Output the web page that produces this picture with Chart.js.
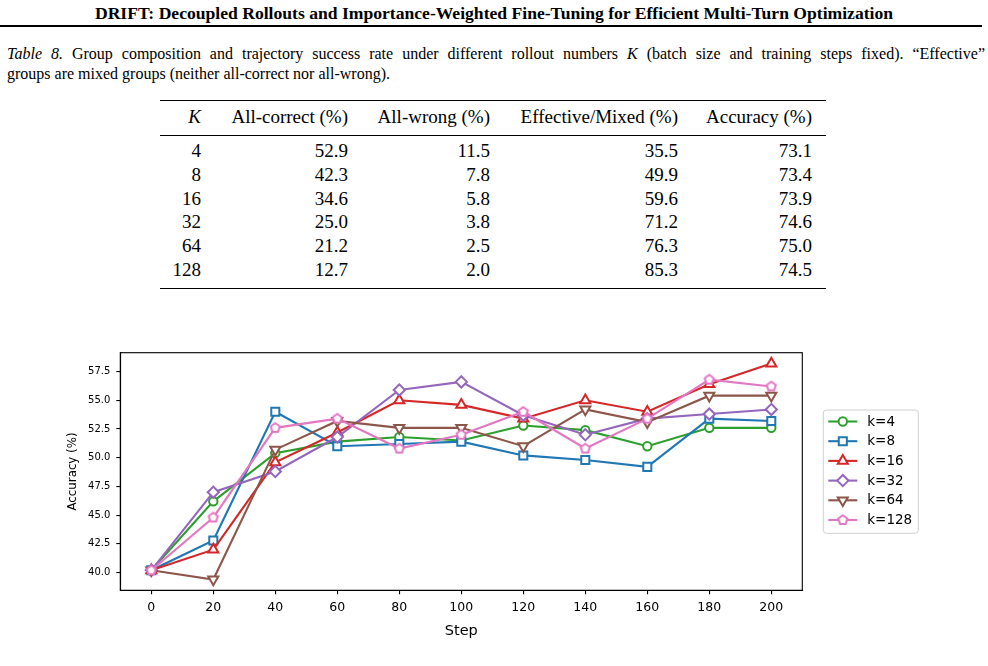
<!DOCTYPE html>
<html>
<head>
<meta charset="utf-8">
<script src="https://cdn.jsdelivr.net/npm/chart.js@4.4.0/dist/chart.umd.min.js"></script>
<style>
  body { margin: 0; background: #fff; width: 988px; height: 666px; overflow: hidden; position: relative;
         font-family: "Liberation Serif", "Times New Roman", serif; color: #000; }
  #head { position: absolute; top: 3px; left: 0; width: 988px; text-align: center; font-weight: bold; font-size: 17.6px; white-space: nowrap; }
  #rule { position: absolute; top: 25px; left: 0; width: 982px; height: 1.6px; background: #000; }
  .cap { position: absolute; left: 7px; width: 978px; font-size: 16px; line-height: 20px; white-space: nowrap; }
  #cap1 { top: 44px; text-align: justify; text-align-last: justify; white-space: normal; }
  #cap2 { top: 64px; }
  .hr { position: absolute; left: 160px; width: 666px; background: #000; }
  .row { position: absolute; left: 160px; width: 666px; height: 24px; line-height: 24px; font-size: 19px; display: flex; }
  .row span { display: block; text-align: right; padding-right: 14px; box-sizing: border-box; white-space: nowrap; }
  #wrap { position: absolute; left: 0; top: 330px; width: 988px; height: 336px; }
</style>
</head>
<body>
<div id="head">DRIFT: Decoupled Rollouts and Importance-Weighted Fine-Tuning for Efficient Multi-Turn Optimization</div>
<div id="rule"></div>
<div class="cap" id="cap1"><i>Table 8.</i> Group composition and trajectory success rate under different rollout numbers <i>K</i> (batch size and training steps fixed). “Effective”</div>
<div class="cap" id="cap2">groups are mixed groups (neither all-correct nor all-wrong).</div>
<div id="table"></div>
<div id="wrap"><canvas id="chart" width="988" height="336"></canvas></div>

<script>
// table data
const tableHeader = ['<i>K</i>', 'All-correct (%)', 'All-wrong (%)', 'Effective/Mixed (%)', 'Accuracy (%)'];
const tableK = [4, 8, 16, 32, 64, 128];
const allCorrect = ['52.9', '42.3', '34.6', '25.0', '21.2', '12.7'];
const allWrong = ['11.5', '7.8', '5.8', '3.8', '2.5', '2.0'];
const effective = ['35.5', '49.9', '59.6', '71.2', '76.3', '85.3'];
const accuracy = ['73.1', '73.4', '73.9', '74.6', '75.0', '74.5'];

// chart data
const steps = [0, 20, 40, 60, 80, 100, 120, 140, 160, 180, 200];
const yTicks = [40.0, 42.5, 45.0, 47.5, 50.0, 52.5, 55.0, 57.5];
const labels = ['k=4', 'k=8', 'k=16', 'k=32', 'k=64', 'k=128'];
const k4   = [40.2, 46.2, 50.4, 51.4, 51.8, 51.5, 52.8, 52.4, 51.0, 52.6, 52.6];
const k8   = [40.2, 42.8, 54.0, 51.0, 51.2, 51.4, 50.2, 49.8, 49.2, 53.4, 53.2];
const k16  = [40.2, 42.0, 49.6, 52.2, 55.0, 54.6, 53.4, 55.0, 54.0, 56.4, 58.2];
const k32  = [40.2, 47.0, 48.8, 51.8, 55.9, 56.6, 53.7, 52.0, 53.4, 53.8, 54.2];
const k64  = [40.2, 39.4, 50.7, 53.2, 52.6, 52.6, 51.0, 54.2, 53.1, 55.4, 55.4];
const k128 = [40.2, 44.8, 52.6, 53.4, 50.8, 52.0, 54.0, 50.8, 53.4, 56.8, 56.2];

// booktabs-like table: rules + rows
const colW = [55, 147, 142, 188, 134];
const tbl = document.getElementById('table');
function addRule(top, h) {
    const d = document.createElement('div');
    d.className = 'hr';
    d.style.top = top + 'px';
    d.style.height = h + 'px';
    tbl.appendChild(d);
}
function addRow(cells, centerY) {
    const r = document.createElement('div');
    r.className = 'row';
    r.style.top = (centerY - 12) + 'px';
    cells.forEach((c, i) => {
        const s = document.createElement('span');
        s.style.width = colW[i] + 'px';
        s.innerHTML = c;
        r.appendChild(s);
    });
    tbl.appendChild(r);
}
addRule(99.5, 1.6);
addRow(tableHeader, 117);
addRule(134.5, 0.9);
tableK.forEach((k, i) => {
    addRow([k, allCorrect[i], allWrong[i], effective[i], accuracy[i]], 151 + i * 23.8);
});
addRule(287.5, 1.6);

// pentagon marker (matplotlib 'p')
function pentagon(color, r, lw) {
    const c = document.createElement('canvas');
    const s = Math.ceil(2 * r + lw + 2);
    c.width = s; c.height = s;
    const ctx = c.getContext('2d');
    ctx.beginPath();
    for (let i = 0; i < 5; i++) {
        const a = -Math.PI / 2 + i * 2 * Math.PI / 5;
        const px = s / 2 + r * Math.cos(a), py = s / 2 + r * Math.sin(a);
        if (i === 0) ctx.moveTo(px, py); else ctx.lineTo(px, py);
    }
    ctx.closePath();
    ctx.fillStyle = '#fff';
    ctx.fill();
    ctx.lineWidth = lw;
    ctx.strokeStyle = color;
    ctx.stroke();
    return c;
}

const colors = ['#2ca02c', '#1f77b4', '#d62728', '#9467bd', '#8c564b', '#e377c2'];
const series = [k4, k8, k16, k32, k64, k128];
const styles = [
    { pointStyle: 'circle', radius: 4.2, rotation: 0 },
    { pointStyle: 'rect', radius: 5.7, rotation: 0 },
    { pointStyle: 'triangle', radius: 5.8, rotation: 0 },
    { pointStyle: 'rectRot', radius: 5.6, rotation: 0 },
    { pointStyle: 'triangle', radius: 5.8, rotation: 180 },
    { pointStyle: pentagon(colors[5], 4.8, 2), radius: 4.8, rotation: 0 }
];

const datasets = series.map((vals, i) => ({
    label: labels[i],
    data: steps.map((s, j) => ({ x: s, y: vals[j] })),
    borderColor: colors[i],
    borderWidth: 2.1,
    pointStyle: styles[i].pointStyle,
    pointRadius: styles[i].radius,
    pointRotation: styles[i].rotation,
    pointBorderWidth: 2,
    pointBorderColor: colors[i],
    pointBackgroundColor: '#fff',
    fill: false,
    tension: 0,
    order: series.length - i
}));

const frameAndLegend = {
    id: 'frameAndLegend',
    afterDraw(chart) {
        const ctx = chart.ctx;
        const a = chart.chartArea;
        ctx.save();
        ctx.strokeStyle = '#000';
        ctx.lineWidth = 1.1;
        ctx.strokeRect(a.left, a.top, a.right - a.left, a.bottom - a.top);

        // legend
        const x0 = a.right + 21, y0 = 80, w = 95, h = 123.3;
        ctx.beginPath();
        ctx.roundRect(x0, y0, w, h, 3);
        ctx.fillStyle = 'rgba(255,255,255,0.8)';
        ctx.fill();
        ctx.strokeStyle = '#d0d0d0';
        ctx.lineWidth = 1;
        ctx.stroke();
        ctx.font = '13.5px "DejaVu Sans"';
        ctx.textBaseline = 'middle';
        labels.forEach((lab, i) => {
            const y = y0 + 11.5 + i * 19.7;
            ctx.strokeStyle = colors[i];
            ctx.lineWidth = 2.1;
            ctx.beginPath();
            ctx.moveTo(x0 + 5, y);
            ctx.lineTo(x0 + 34, y);
            ctx.stroke();
            ctx.fillStyle = '#fff';
            ctx.lineWidth = 2;
            Chart.helpers.drawPoint(ctx, {
                pointStyle: styles[i].pointStyle, radius: styles[i].radius,
                rotation: styles[i].rotation, borderWidth: 2
            }, x0 + 19.5, y);
            ctx.fillStyle = '#000';
            ctx.fillText(lab, x0 + 44, y + 0.5);
        });
        ctx.restore();
    }
};

new Chart(document.getElementById('chart'), {
    type: 'line',
    data: { datasets: datasets },
    plugins: [frameAndLegend],
    options: {
        responsive: false,
        animation: false,
        devicePixelRatio: 1,
        layout: { padding: { left: 0, top: 22.7, right: 185.7, bottom: 0 } },
        plugins: { legend: { display: false }, tooltip: { enabled: false } },
        scales: {
            x: {
                type: 'linear', min: -10, max: 210,
                afterBuildTicks: s => { s.ticks = steps.map(v => ({ value: v })); },
                afterFit: s => { s.height = 75.7; },
                grid: { display: true, drawOnChartArea: false, drawTicks: true, tickLength: 4, color: '#000', lineWidth: 1.1 },
                border: { display: true, color: '#000', width: 1.1 },
                ticks: { font: { family: 'DejaVu Sans', size: 12.5 }, color: '#000', padding: 6, maxRotation: 0 },
                title: { display: true, text: 'Step', color: '#000', font: { family: 'DejaVu Sans', size: 14.5 }, padding: { top: 0, bottom: 26.3 } }
            },
            y: {
                type: 'linear', min: 38.46, max: 59.14,
                afterBuildTicks: s => { s.ticks = yTicks.map(v => ({ value: v })); },
                afterFit: s => { s.width = 120.3; },
                grid: { display: true, drawOnChartArea: false, drawTicks: true, tickLength: 4, color: '#000', lineWidth: 1.1 },
                border: { display: true, color: '#000', width: 1.1 },
                ticks: { font: { family: 'DejaVu Sans', size: 10 }, color: '#000', padding: 6, callback: v => v.toFixed(1) },
                title: { display: true, text: 'Accuracy (%)', color: '#000', font: { family: 'DejaVu Sans', size: 11.8 }, padding: { top: 65.6, bottom: 0 } }
            }
        }
    }
});
</script>
</body>
</html>
